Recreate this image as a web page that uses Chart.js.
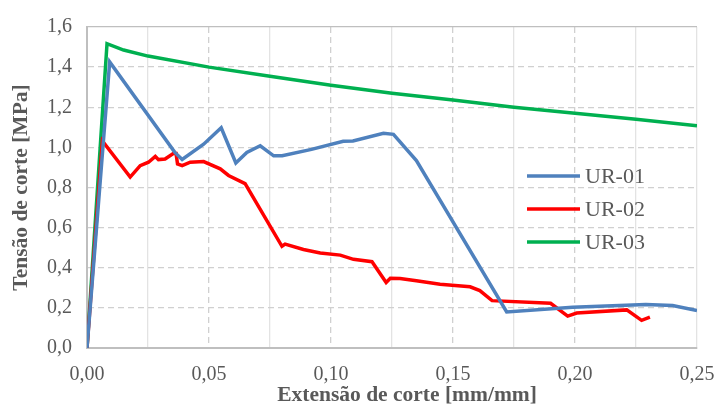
<!DOCTYPE html>
<html>
<head>
<meta charset="utf-8">
<script src="https://cdn.jsdelivr.net/npm/chart.js@4.4.0/dist/chart.umd.min.js"></script>
<style>
  html, body { margin: 0; padding: 0; background: #fff; }
  #wrap { width: 716px; height: 408px; position: relative; }
</style>
</head>
<body>
<div id="wrap"><canvas id="chart" width="716" height="408"></canvas></div>
<script>
// Valores
const ur01X = [0, 0.0093, 0.036, 0.039, 0.0478, 0.055, 0.061, 0.0655, 0.071, 0.0765, 0.080, 0.092, 0.105, 0.109, 0.1215, 0.1256, 0.135, 0.172, 0.199, 0.229, 0.240, 0.25];
const ur01Y = [0, 1.426, 0.975, 0.94, 1.016, 1.098, 0.922, 0.975, 1.008, 0.958, 0.958, 0.99, 1.03, 1.032, 1.07, 1.065, 0.934, 0.18, 0.203, 0.217, 0.212, 0.187];

const ur02X = [0, 0.0063, 0.0177, 0.0218, 0.0252, 0.028, 0.0293, 0.032, 0.0355, 0.0365, 0.0371, 0.039, 0.0423, 0.0478, 0.0546, 0.058, 0.0648, 0.0799, 0.0812, 0.0887, 0.0956, 0.1038, 0.1092, 0.1168, 0.1226, 0.1243, 0.1283, 0.135, 0.1447, 0.157, 0.161, 0.166, 0.19, 0.197, 0.2007, 0.2212, 0.2273, 0.2307];
const ur02Y = [0, 1.032, 0.852, 0.909, 0.926, 0.955, 0.939, 0.942, 0.971, 0.97, 0.917, 0.909, 0.926, 0.929, 0.893, 0.860, 0.819, 0.507, 0.518, 0.491, 0.474, 0.463, 0.442, 0.43, 0.327, 0.348, 0.346, 0.335, 0.318, 0.305, 0.286, 0.236, 0.223, 0.159, 0.174, 0.19, 0.138, 0.154];

const ur03X = [0, 0.0082, 0.015, 0.025, 0.05, 0.075, 0.1, 0.125, 0.15, 0.175, 0.2, 0.225, 0.25];
const ur03Y = [0, 1.517, 1.485, 1.455, 1.40, 1.355, 1.31, 1.27, 1.236, 1.20, 1.17, 1.14, 1.108];

const seriesNames = ['UR-01', 'UR-02', 'UR-03'];
const seriesColors = ['#4f81bd', '#ff0000', '#00b050'];

const xTitle = 'Extensão de corte [mm/mm]';
const yTitle = 'Tensão de corte [MPa]';

const FONT = "'Liberation Serif', 'Times New Roman', serif";
const TEXT = '#595959';

function toPoints(xs, ys) {
    return xs.map((x, i) => ({ x: x, y: ys[i] }));
}

function fmt(v, d) {
    return v.toFixed(d).replace('.', ',');
}

// Legenda dentro da área do gráfico e título do eixo x (ligeiramente à direita, como no original)
const insideLegend = {
    id: 'insideLegend',
    afterDraw(chart) {
        const { ctx, chartArea } = chart;
        const x0 = chartArea.left + 440;
        const y0 = chartArea.top + 149;
        ctx.save();
        ctx.font = '22px ' + FONT;
        ctx.textBaseline = 'middle';
        seriesNames.forEach((name, i) => {
            const y = y0 + i * 33;
            ctx.strokeStyle = seriesColors[i];
            ctx.lineWidth = 3.5;
            ctx.beginPath();
            ctx.moveTo(x0, y);
            ctx.lineTo(x0 + 53, y);
            ctx.stroke();
            ctx.fillStyle = TEXT;
            ctx.fillText(name, x0 + 58, y + 1);
        });

        ctx.font = 'bold 21.5px ' + FONT;
        ctx.textAlign = 'center';
        ctx.fillStyle = TEXT;
        ctx.fillText(xTitle, (chartArea.left + chartArea.right) / 2 + 15, chart.height - 13);
        ctx.restore();
    }
};

const datasets = [
    toPoints(ur01X, ur01Y),
    toPoints(ur02X, ur02Y),
    toPoints(ur03X, ur03Y)
].map((pts, i) => ({
    label: seriesNames[i],
    data: pts,
    borderColor: seriesColors[i],
    backgroundColor: seriesColors[i],
    borderWidth: 3.5,
    pointRadius: 0,
    tension: 0,
    fill: false
}));

new Chart(document.getElementById('chart'), {
    type: 'line',
    data: { datasets: datasets },
    options: {
        responsive: false,
        animation: false,
        layout: { padding: { top: 23, right: 0, left: 0, bottom: 0 } },
        plugins: {
            legend: { display: false },
            tooltip: { enabled: false }
        },
        scales: {
            x: {
                type: 'linear',
                min: 0,
                max: 0.25,
                afterFit: s => {
                    s.height = 60;
                    s.paddingRight = 19;
                    s.paddingLeft = 0;
                },
                ticks: {
                    stepSize: 0.025,
                    color: TEXT,
                    font: { family: FONT, size: 20 },
                    padding: 15,
                    maxRotation: 0,
                    callback: v => (Math.abs(v / 0.05 - Math.round(v / 0.05)) < 1e-6) ? fmt(v, 2) : ''
                },
                grid: {
                    color: ctx => {
                        const v = ctx.tick ? ctx.tick.value : 0;
                        const major = Math.abs(v / 0.05 - Math.round(v / 0.05)) < 1e-6;
                        return (major && v < 0.249) ? '#d0d0d0' : '#e3e3e3';
                    },
                    lineWidth: 1.3,
                    drawTicks: false
                },
                border: {
                    color: '#bfbfbf',
                    width: 2,
                    dash: ctx => {
                        const v = ctx.tick ? ctx.tick.value : 0;
                        const major = Math.abs(v / 0.05 - Math.round(v / 0.05)) < 1e-6;
                        return (major && v < 0.249) ? [6, 4] : [];
                    }
                },
                title: { display: false }
            },
            y: {
                min: 0,
                max: 1.6,
                afterFit: s => { s.width = 87; },
                ticks: {
                    stepSize: 0.2,
                    color: TEXT,
                    font: { family: FONT, size: 20 },
                    padding: 15,
                    callback: v => fmt(v, 1)
                },
                grid: {
                    color: ctx => (ctx.tick && ctx.tick.value > 1.59) ? '#bfbfbf' : '#d0d0d0',
                    lineWidth: 1.3,
                    drawTicks: false
                },
                border: {
                    color: '#bfbfbf',
                    width: 2,
                    dash: ctx => (ctx.tick && ctx.tick.value > 1.59) ? [] : [6, 4]
                },
                title: {
                    display: true,
                    text: yTitle,
                    color: TEXT,
                    font: { family: FONT, size: 21.5, weight: 'bold' },
                    padding: { top: 9, bottom: 0 }
                }
            }
        }
    },
    plugins: [insideLegend]
});
</script>
</body>
</html>
